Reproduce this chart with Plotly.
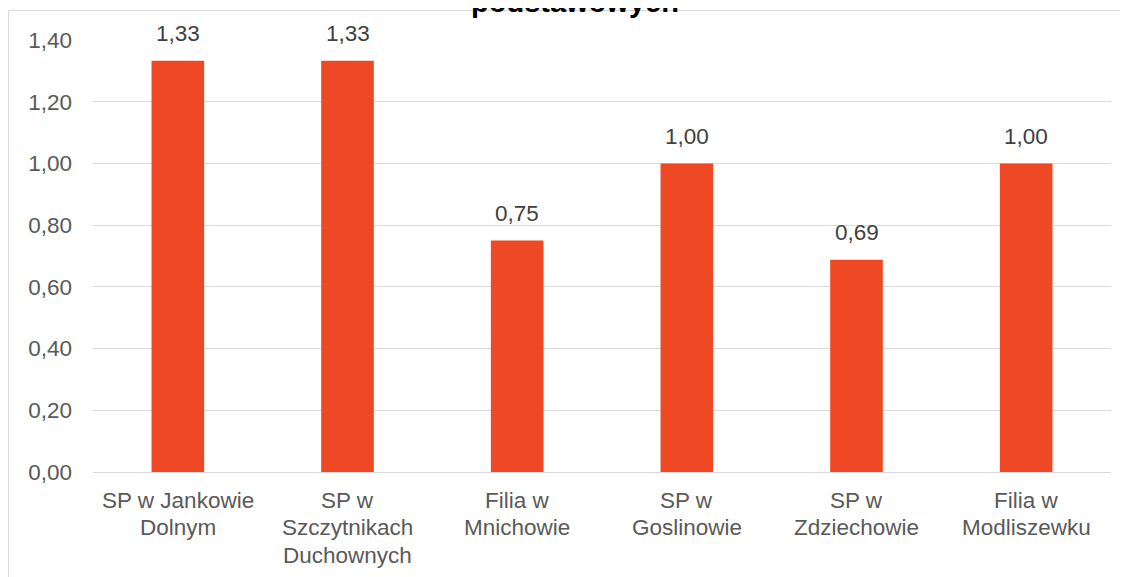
import plotly.graph_objects as go

categories = ["SP w Jankowie<br>Dolnym", "SP w<br>Szczytnikach<br>Duchownych", "Filia w<br>Mnichowie",
              "SP w<br>Goslinowie", "SP w<br>Zdziechowie", "Filia w<br>Modliszewku"]
values = [1.333, 1.333, 0.75, 1.00, 0.688, 1.00]
y_ticks = [0, 0.2, 0.4, 0.6, 0.8, 1.0, 1.2, 1.4]
title_text = "podstawowych"

# page body has an 8px margin; target screen pixels are converted below
OFF = 8
W, H = 1128, 577
L, R, T, B = 93 - OFF, W - (1111 - OFF), 40 - OFF, H - (472 - OFF)
plot_w = W - L - R
plot_h = H - T - B

def px_x(p):  # screen px -> paper
    return (p - OFF - L) / plot_w

def px_y(p):
    return (H - B - (p - OFF)) / plot_h

FONT = "Arial, Liberation Sans, sans-serif"
FS = 22.5
bar_color = "#EE4824"

fig = go.Figure()
fig.add_trace(go.Bar(
    x=categories, y=values, marker=dict(color=bar_color, line=dict(width=0)),
    width=0.31, hoverinfo="skip",
))

annotations = []
for c, v in zip(categories, values):
    annotations.append(dict(
        x=c, y=v, xref="x", yref="y", text=f"{v:.2f}".replace(".", ","),
        showarrow=False, yanchor="middle", yshift=27,
        font=dict(family=FONT, size=FS, color="#404040"),
    ))
    # category label, one annotation per line (Excel-like line spacing)
    for i, line in enumerate(c.split("<br>")):
        annotations.append(dict(
            x=c, y=0, xref="x", yref="paper", text=line,
            showarrow=False, yanchor="middle", yshift=-(28 + 27.5 * i),
            font=dict(family=FONT, size=FS, color="#595959"),
        ))
annotations.append(dict(
    x=px_x(575), y=px_y(2), xref="paper", yref="paper", text=f"<b>{title_text}</b>",
    showarrow=False, xanchor="center", yanchor="middle",
    font=dict(family=FONT, size=29, color="#000000"),
))

fig.update_layout(
    width=W, height=H,
    margin=dict(l=L, r=R, t=T, b=B, autoexpand=False),
    paper_bgcolor="white", plot_bgcolor="white",
    separators=", ",
    showlegend=False,
    bargap=0.69,
    annotations=annotations,
    shapes=[dict(type="rect", xref="paper", yref="paper",
                 x0=px_x(8.5), x1=px_x(W + 30), y0=px_y(H + 30), y1=px_y(10.5),
                 line=dict(color="#D9D9D9", width=1), fillcolor="rgba(0,0,0,0)", layer="below")],
    xaxis=dict(
        showgrid=False, zeroline=False, showline=True, linecolor="#D9D9D9", linewidth=1,
        showticklabels=False, ticks="", fixedrange=True,
    ),
    yaxis=dict(
        range=[0, 1.4], tickvals=y_ticks, tickformat=".2f",
        showgrid=True, gridcolor="#D9D9D9", gridwidth=1,
        zeroline=False, showline=False,
        tickfont=dict(family=FONT, size=FS, color="#595959"),
        ticks="", ticklabelstandoff=20, fixedrange=True,
    ),
)

fig.write_html("out.html")
